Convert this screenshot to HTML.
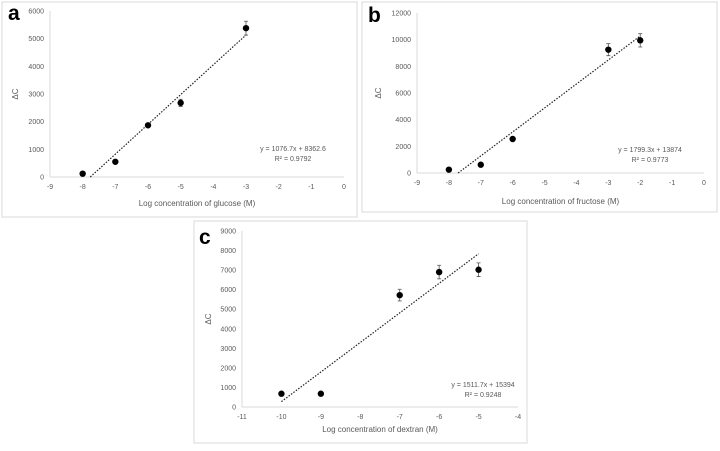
<!DOCTYPE html>
<html><head><meta charset="utf-8"><style>
body{margin:0;background:#fff;width:720px;height:446px;overflow:hidden;font-family:"Liberation Sans",sans-serif}
svg text{font-family:"Liberation Sans",sans-serif;fill:#595959}
</style></head><body>
<svg id="s" width="720" height="446"></svg>
<script>
const aX=[-8,-7,-6,-5,-3], aY=[120,550,1870,2680,5380], aE=[0,0,50,130,250];
const bX=[-8,-7,-6,-3,-2], bY=[250,620,2550,9250,9950], bE=[0,0,0,450,500];
const cX=[-10,-9,-7,-6,-5], cY=[680,680,5720,6900,7020], cE=[0,0,300,350,350];
const aSlope=1076.7, aInt=8362.6, bSlope=1799.3, bInt=13874, cSlope=1511.7, cInt=15394;
const aXT=[-9,-8,-7,-6,-5,-4,-3,-2,-1,0], aYT=[0,1000,2000,3000,4000,5000,6000];
const bXT=[-9,-8,-7,-6,-5,-4,-3,-2,-1,0], bYT=[0,2000,4000,6000,8000,10000,12000];
const cXT=[-11,-10,-9,-8,-7,-6,-5,-4], cYT=[0,1000,2000,3000,4000,5000,6000,7000,8000,9000];
const NS="http://www.w3.org/2000/svg", svg=document.getElementById('s');
function mk(t,a,p){const e=document.createElementNS(NS,t);for(const k in a)e.setAttribute(k,a[k]);(p||svg).appendChild(e);return e;}
function panel(o){
 const g=mk('g',{});
 
 
 const box=mk('rect',{x:o.bx,y:o.by,width:o.bw,height:o.bh,fill:'#fff',stroke:'#d9d9d9','stroke-width':1},g);
 
 
 const sx=v=>o.x0+(v-o.xmin)/(o.xmax-o.xmin)*(o.x1-o.x0);
 const sy=v=>o.y0-(v-o.ymin)/(o.ymax-o.ymin)*(o.y0-o.y1);
 const ax=mk('line',{x1:o.x0,x2:o.x1,y1:o.y0,y2:o.y0,stroke:'#d9d9d9'},g);
 
 
 const ay=mk('line',{x1:o.x0,x2:o.x0,y1:o.y0,y2:o.y1,stroke:'#d9d9d9'},g);
 
 
 o.xt.forEach(v=>{const t=mk('text',{x:sx(v),y:o.y0+12,'text-anchor':'middle','font-size':7},g);t.textContent=v;
  
  });
 o.yt.forEach(v=>{const t=mk('text',{x:o.x0-6,y:sy(v)+2.5,'text-anchor':'end','font-size':7},g);t.textContent=v;
  
  });
 const ttl=mk('text',{x:(o.x0+o.x1)/2,y:o.ty,'text-anchor':'middle','font-size':8},g);ttl.textContent=o.title;
 
 
 const yl=mk('text',{x:o.ylx,y:(o.y0+o.y1)/2,'text-anchor':'middle','font-size':8,transform:`rotate(-90 ${o.ylx} ${(o.y0+o.y1)/2})`},g);yl.textContent='ΔC';
 
 
 const lb=mk('text',{x:o.lx,y:o.ly,'font-size':21,'font-weight':'bold',style:'fill:#000'},g);lb.textContent=o.id;
 
 
 let xa=o.tx0!==undefined?o.tx0:Math.max(o.xs[0],-o.int/o.slope), xb=o.xs[o.xs.length-1];
 const tl=mk('line',{x1:sx(xa),y1:sy(o.slope*xa+o.int),x2:sx(xb),y2:sy(o.slope*xb+o.int),stroke:'#222','stroke-width':1.2,'stroke-dasharray':'1.5 1.5'},g);
 
 
 o.xs.forEach((x,i)=>{
  if(o.es[i]>0){const e=mk('path',{d:`M${sx(x)} ${sy(o.ys[i]-o.es[i])}V${sy(o.ys[i]+o.es[i])}M${sx(x)-2} ${sy(o.ys[i]-o.es[i])}h4M${sx(x)-2} ${sy(o.ys[i]+o.es[i])}h4`,stroke:'#555','stroke-width':0.8,fill:'none'},g);
   
   }
  const c=mk('circle',{cx:sx(x),cy:sy(o.ys[i]),r:3.2,fill:'#000'},g);
  
  
 });
 const e1=mk('text',{x:o.ex,y:o.ey,'text-anchor':'middle','font-size':7},g);e1.textContent=o.eq;
 
 
 const e2=mk('text',{x:o.ex,y:o.ey+10,'text-anchor':'middle','font-size':7},g);e2.innerHTML=o.r2;
 
 
}
panel({id:'a',bx:2,by:2,bw:355,bh:215,x0:50,x1:344,y0:177,y1:11,xmin:-9,xmax:0,ymin:0,ymax:6000,xt:aXT,yt:aYT,xs:aX,ys:aY,es:aE,slope:aSlope,int:aInt,title:'Log concentration of glucose (M)',ty:206,ylx:18,lx:8,ly:20,ex:293,ey:151,eq:'y = 1076.7x + 8362.6',r2:'R² = 0.9792'});
panel({id:'b',bx:362,by:2,bw:355,bh:210,x0:417,x1:704,y0:173,y1:13,xmin:-9,xmax:0,ymin:0,ymax:12000,xt:bXT,yt:bYT,xs:bX,ys:bY,es:bE,slope:bSlope,int:bInt,title:'Log concentration of fructose (M)',ty:204,ylx:381,lx:368,ly:22,ex:650,ey:152,eq:'y = 1799.3x + 13874',r2:'R² = 0.9773'});
panel({id:'c',bx:194,by:221,bw:333,bh:222,x0:242,x1:518,y0:407,y1:231,xmin:-11,xmax:-4,ymin:0,ymax:9000,xt:cXT,yt:cYT,xs:cX,ys:cY,es:cE,slope:cSlope,int:cInt,tx0:-10,title:'Log concentration of dextran (M)',ty:432,ylx:211,lx:199,ly:244,ex:483,ey:387,eq:'y = 1511.7x + 15394',r2:'R² = 0.9248'});
</script>
</body></html>
